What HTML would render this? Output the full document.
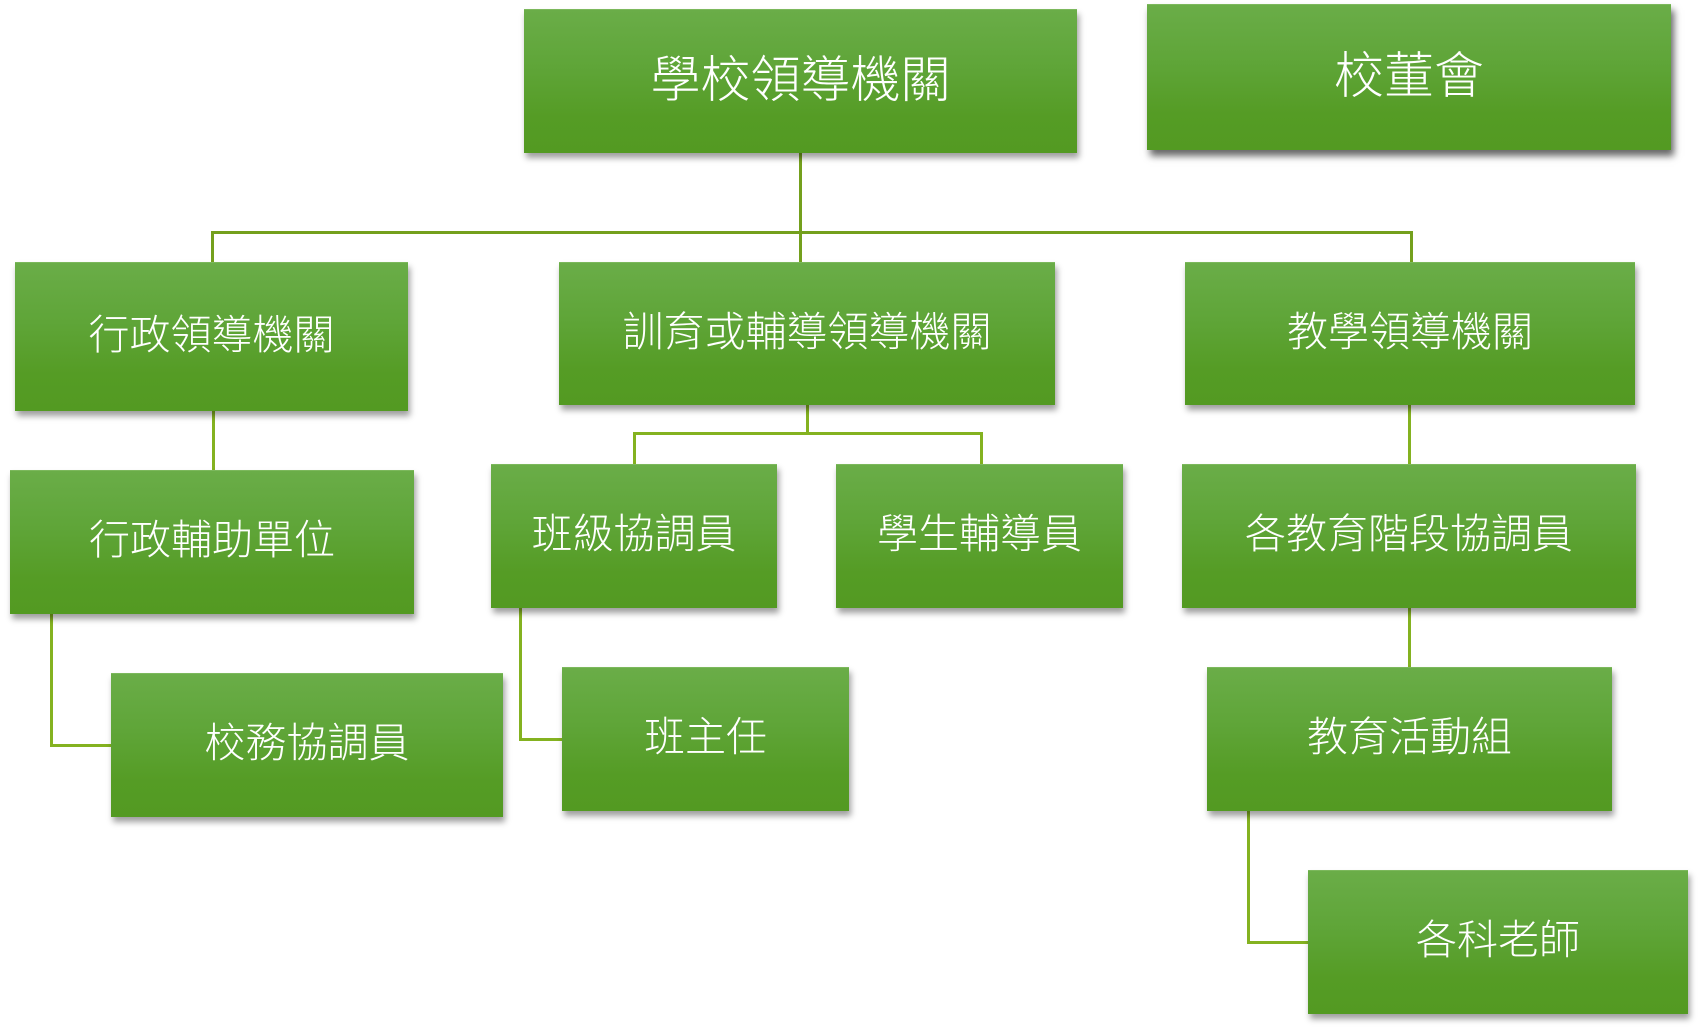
<!DOCTYPE html>
<html>
<head>
<meta charset="utf-8">
<style>
  html,body{margin:0;padding:0;background:#fff;}
  body{width:1698px;height:1031px;position:relative;overflow:hidden;}
  .b{position:absolute;box-sizing:border-box;
     background:linear-gradient(to bottom,#6aad48 0%,#5fa538 40%,#559c25 75%,#539a22 100%);
     border-top:1px solid #7cb85c;
     box-shadow:2px 5px 6px rgba(0,0,0,0.38);
     display:flex;align-items:center;justify-content:center;
     color:#fff;font-family:"Liberation Sans","Noto Sans CJK TC","Noto Sans CJK SC",sans-serif;
     font-weight:300;
     font-size:41px;line-height:1;padding-bottom:4px;white-space:nowrap;}
  .big{font-size:50px;}
  .dark{box-shadow:3px 6px 7px rgba(0,0,0,0.6);}
  .l{position:absolute;background:#84b220;}
  .t{background:#74a01d;}
</style>
</head>
<body>
<!-- connectors -->
<div class="l t" style="left:799px;top:150px;width:3px;height:114px;"></div>
<div class="l t" style="left:211px;top:231px;width:1202px;height:3px;"></div>
<div class="l t" style="left:211px;top:231px;width:3px;height:33px;"></div>
<div class="l t" style="left:1410px;top:231px;width:3px;height:33px;"></div>

<div class="l" style="left:212px;top:408px;width:3px;height:64px;"></div>
<div class="l" style="left:50px;top:612px;width:3px;height:135px;"></div>
<div class="l" style="left:50px;top:744px;width:63px;height:3px;"></div>

<div class="l" style="left:806px;top:403px;width:3px;height:32px;"></div>
<div class="l" style="left:633px;top:432px;width:350px;height:3px;"></div>
<div class="l" style="left:633px;top:432px;width:3px;height:34px;"></div>
<div class="l" style="left:980px;top:432px;width:3px;height:34px;"></div>

<div class="l" style="left:519px;top:606px;width:3px;height:135px;"></div>
<div class="l" style="left:519px;top:738px;width:45px;height:3px;"></div>

<div class="l" style="left:1408px;top:403px;width:3px;height:63px;"></div>
<div class="l" style="left:1408px;top:606px;width:3px;height:63px;"></div>

<div class="l" style="left:1247px;top:809px;width:3px;height:135px;"></div>
<div class="l" style="left:1247px;top:941px;width:63px;height:3px;"></div>

<!-- boxes -->
<div class="b big" style="left:524px;top:9px;width:553px;height:144px;">學校領導機關</div>
<div class="b big dark" style="left:1147px;top:4px;width:524px;height:146px;">校董會</div>

<div class="b" style="left:15px;top:262px;width:393px;height:149px;">行政領導機關</div>
<div class="b" style="left:559px;top:262px;width:496px;height:143px;">訓育或輔導領導機關</div>
<div class="b" style="left:1185px;top:262px;width:450px;height:143px;">教學領導機關</div>

<div class="b" style="left:10px;top:470px;width:404px;height:144px;">行政輔助單位</div>
<div class="b" style="left:491px;top:464px;width:286px;height:144px;">班級協調員</div>
<div class="b" style="left:836px;top:464px;width:287px;height:144px;">學生輔導員</div>
<div class="b" style="left:1182px;top:464px;width:454px;height:144px;">各教育階段協調員</div>

<div class="b" style="left:111px;top:673px;width:392px;height:144px;">校務協調員</div>
<div class="b" style="left:562px;top:667px;width:287px;height:144px;">班主任</div>
<div class="b" style="left:1207px;top:667px;width:405px;height:144px;">教育活動組</div>

<div class="b" style="left:1308px;top:870px;width:380px;height:144px;">各科老師</div>
</body>
</html>
